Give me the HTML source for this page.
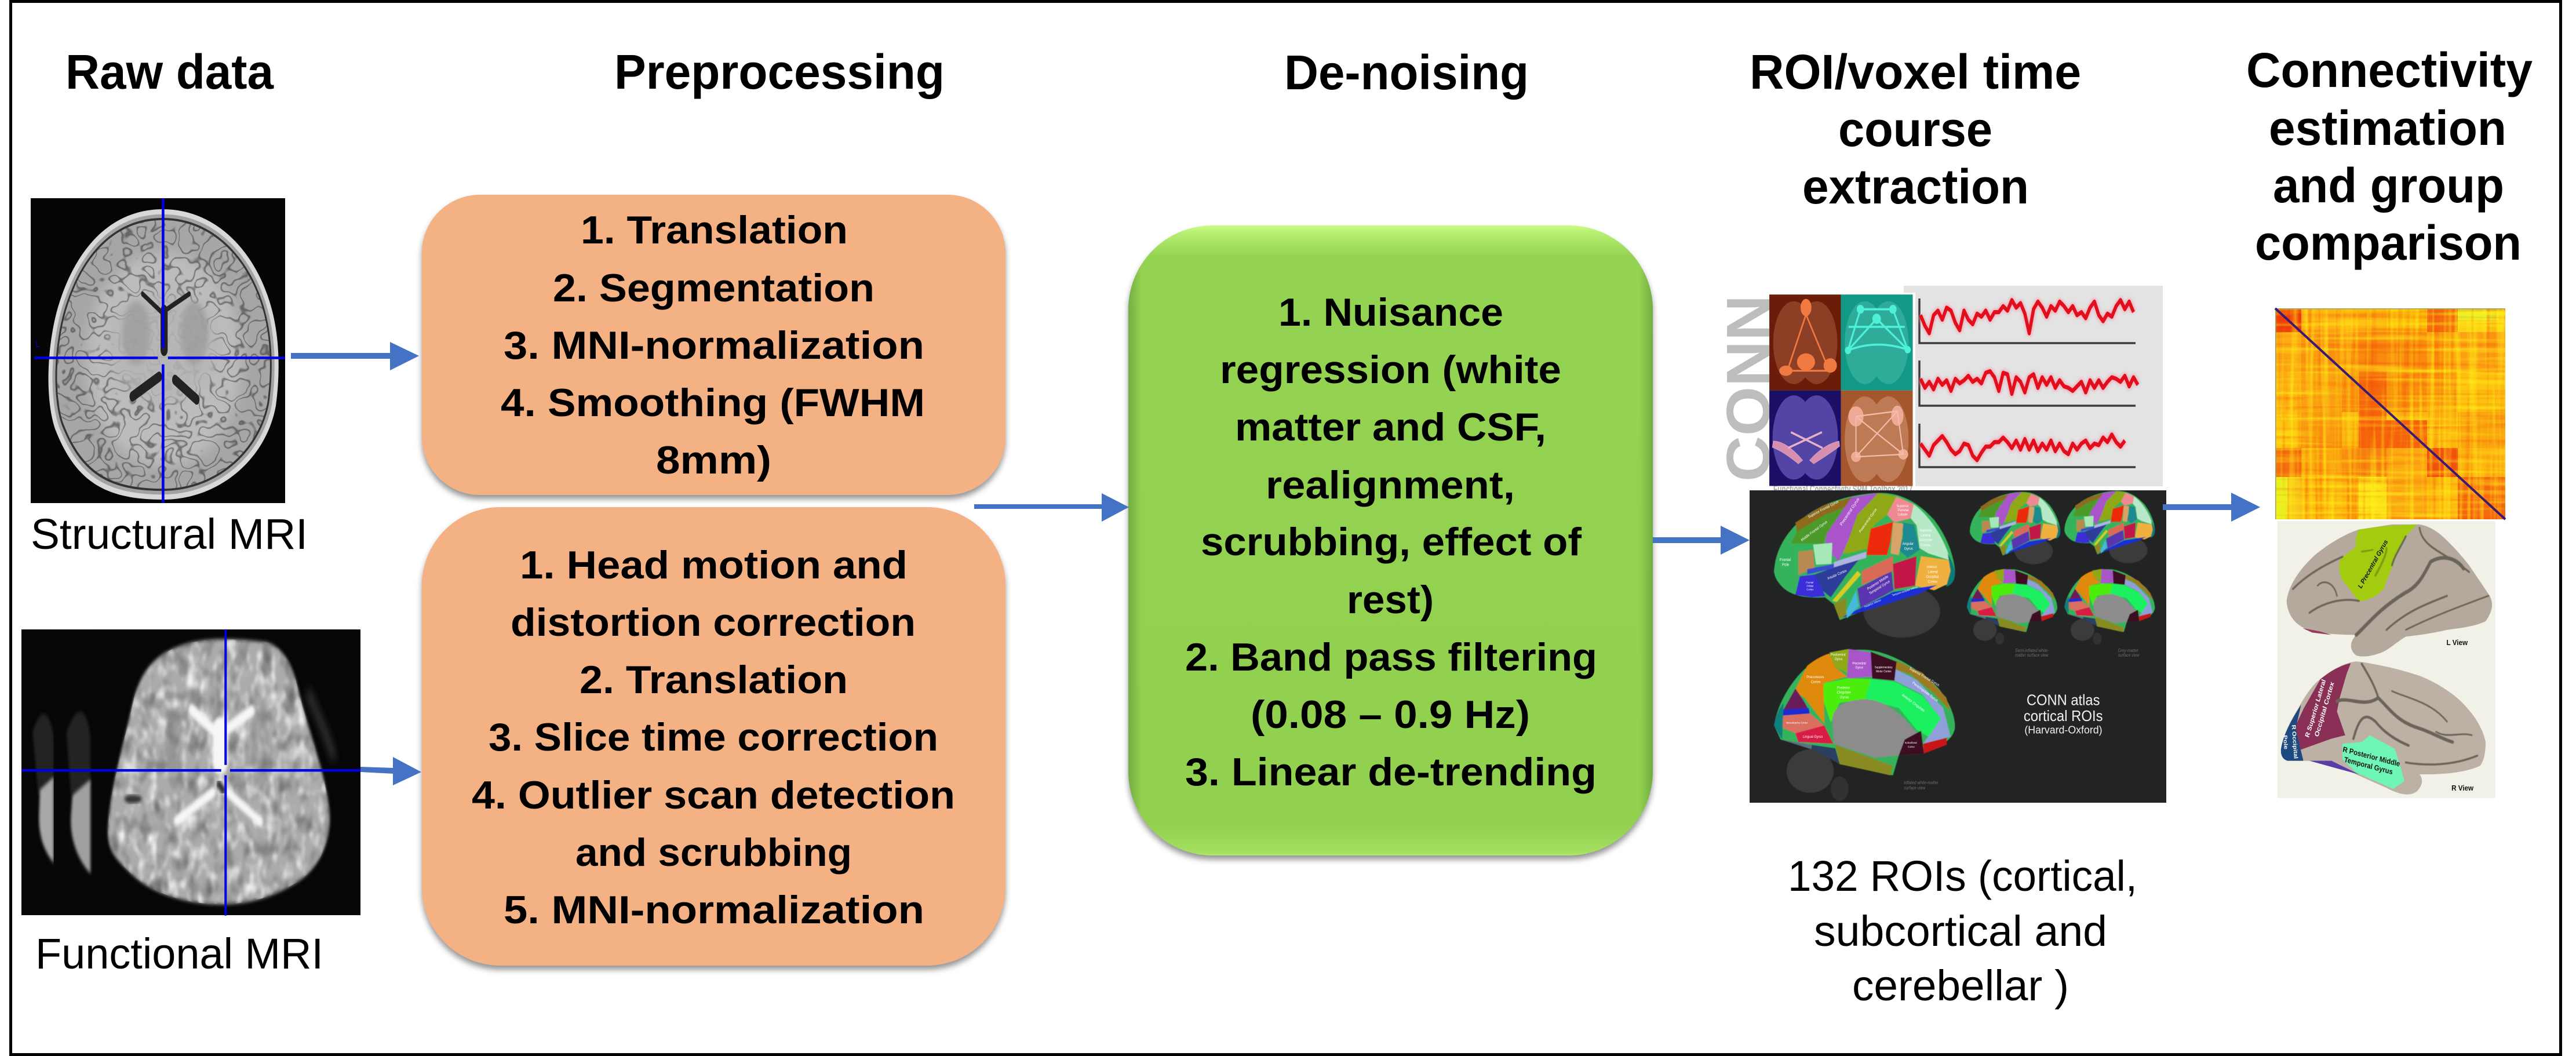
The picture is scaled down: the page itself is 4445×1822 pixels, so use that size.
<!DOCTYPE html>
<html>
<head>
<meta charset="utf-8">
<title>Connectivity pipeline</title>
<style>
html,body{margin:0;padding:0;background:#fff;width:4445px;height:1822px;overflow:hidden}
svg{display:block}
text{font-family:"Liberation Sans",sans-serif;fill:#000}
.h{font-size:84px;font-weight:bold}
.b{font-size:68px;font-weight:bold}
.r{font-size:74px}
.l{font-size:11px;fill:#fff}
.d{font-size:12px;font-weight:bold;fill:#111}
.c{font-size:13px;fill:#6a6a6a;font-style:italic}
</style>
</head>
<body>
<svg xmlns="http://www.w3.org/2000/svg" width="4445" height="1822" viewBox="0 0 4445 1822">
<defs>
<filter id="sh" x="-5%" y="-5%" width="110%" height="112%" color-interpolation-filters="sRGB">
<feDropShadow dx="0" dy="7" stdDeviation="5" flood-color="#000" flood-opacity=".42"/>
</filter>
<linearGradient id="gv" x1="0" y1="0" x2="0" y2="1">
<stop offset="0" stop-color="#c9fb86"/><stop offset=".012" stop-color="#b6ee70"/><stop offset=".05" stop-color="#94d252"/><stop offset=".95" stop-color="#92d050"/><stop offset=".995" stop-color="#a4df60"/><stop offset="1" stop-color="#b0ea6c"/>
</linearGradient>
<linearGradient id="gh" x1="0" y1="0" x2="1" y2="0">
<stop offset="0" stop-color="#4f8a30" stop-opacity=".5"/><stop offset=".025" stop-color="#4f8a30" stop-opacity="0"/><stop offset=".975" stop-color="#4f8a30" stop-opacity="0"/><stop offset="1" stop-color="#4f8a30" stop-opacity=".5"/>
</linearGradient>
<filter id="mw" x="0" y="0" width="1" height="1" color-interpolation-filters="sRGB">
<feTurbulence type="fractalNoise" baseFrequency="0.03" numOctaves="2" seed="4"/>
<feColorMatrix values="0 0 0 0 1 0 0 0 0 1 0 0 0 0 1 2.2 0 0 0 -1"/>
<feGaussianBlur stdDeviation="2.5"/>
<feComposite in2="SourceGraphic" operator="in"/>
</filter>
<filter id="md" x="0" y="0" width="1" height="1" color-interpolation-filters="sRGB">
<feTurbulence type="fractalNoise" baseFrequency="0.025" numOctaves="2" seed="11"/>
<feColorMatrix values="0 0 0 0 .3 0 0 0 0 .3 0 0 0 0 .3 1.6 0 0 0 -.75"/>
<feGaussianBlur stdDeviation="2.5"/>
<feComposite in2="SourceGraphic" operator="in"/>
</filter>
<filter id="sulci" x="0" y="0" width="1" height="1" color-interpolation-filters="sRGB">
<feTurbulence type="fractalNoise" baseFrequency="0.026" numOctaves="2" seed="7"/>
<feColorMatrix values="0 0 0 0 .12 0 0 0 0 .12 0 0 0 0 .12 1 0 0 0 0"/>
<feComponentTransfer><feFuncA type="table" tableValues="0 0 0 0 0 0 0 0 0 0 0 0 0 .9 0 0 0 0 .9 0 0 0 0 0 0 0 0 0 0 0 0 0 0"/></feComponentTransfer>
<feComposite in2="SourceGraphic" operator="in"/>
</filter>
<filter id="bl" x="-10%" y="-10%" width="120%" height="120%"><feGaussianBlur stdDeviation="4"/></filter>
<filter id="bl2" x="-20%" y="-20%" width="140%" height="140%"><feGaussianBlur stdDeviation="10"/></filter>
<filter id="b1" x="-5%" y="-5%" width="110%" height="110%"><feGaussianBlur stdDeviation="1"/></filter>
<filter id="b2" x="-5%" y="-5%" width="110%" height="110%"><feGaussianBlur stdDeviation="2.5"/></filter>
<filter id="s1" x="0" y="0" width="1" height="1" color-interpolation-filters="sRGB">
<feTurbulence type="fractalNoise" baseFrequency="0.11 0.004" numOctaves="2" seed="3"/>
<feColorMatrix values="0 0 0 0 .95 0 0 0 0 .3 0 0 0 0 .02 2.6 0 0 0 -1.3"/>
</filter>
<filter id="s2" x="0" y="0" width="1" height="1" color-interpolation-filters="sRGB">
<feTurbulence type="fractalNoise" baseFrequency="0.004 0.11" numOctaves="2" seed="5"/>
<feColorMatrix values="0 0 0 0 1 0 0 0 0 .95 0 0 0 0 .1 2.6 0 0 0 -1.25"/>
</filter>
<filter id="s3" x="0" y="0" width="1" height="1" color-interpolation-filters="sRGB">
<feTurbulence type="fractalNoise" baseFrequency="0.004 0.12" numOctaves="2" seed="9"/>
<feColorMatrix values="0 0 0 0 .95 0 0 0 0 .3 0 0 0 0 .02 2.6 0 0 0 -1.35"/>
</filter>
<filter id="s4" x="0" y="0" width="1" height="1" color-interpolation-filters="sRGB">
<feTurbulence type="fractalNoise" baseFrequency="0.12 0.004" numOctaves="2" seed="13"/>
<feColorMatrix values="0 0 0 0 1 0 0 0 0 .95 0 0 0 0 .1 2.6 0 0 0 -1.25"/>
</filter>
<clipPath id="cs"><rect x="53" y="342" width="439" height="526"/></clipPath>
<clipPath id="cf"><rect x="37" y="1086" width="585" height="493"/></clipPath>
<path id="head" d="M281 361C370 361 440 430 468 530C482 580 484 640 476 700C460 790 380 862 281 862C180 862 130 830 95 740C78 690 80 600 100 530C130 430 190 361 281 361Z"/>
<path id="fb" d="M365 1270C370 1190 420 1100 450 1020C480 950 540 925 620 910C700 895 800 898 900 905C960 915 990 950 1010 1000C1050 1090 1115 1180 1115 1250C1110 1310 1060 1350 1000 1370C900 1405 800 1415 700 1410C600 1405 500 1385 440 1350C395 1325 365 1310 365 1270Z"/>

<g id="lat">
<ellipse cx="650" cy="965" rx="130" ry="75" fill="#3a3a3a"/>
<path d="M218 850C222 790 260 735 330 690C400 650 490 630 570 628C640 626 700 650 760 705C800 750 825 800 830 850C830 885 800 895 770 892L620 930L440 990L420 945L390 925C340 928 280 925 245 895C228 880 218 865 218 850Z" fill="#35b35c"/>
<path d="M290 712L380 665L480 640L470 665L390 690L295 738Z" fill="#8d6a1e"/>
<path d="M295 738L390 690L470 665L440 690L395 745L385 772L275 772Z" fill="#4c9a2a"/>
<path d="M480 640L570 628L500 690L470 760L450 800L435 822L390 780L395 745L440 690Z" fill="#a955c9"/>
<path d="M570 628L632 638L600 690L555 720L540 785L470 800L450 800L470 760L500 690Z" fill="#8fa814"/>
<path d="M632 638L690 660L680 700L625 712L600 690Z" fill="#ef8a92"/>
<path d="M690 660C740 690 790 750 815 820L740 800L710 785L700 720L680 700Z" fill="#b7e8c8"/>
<path d="M650 712L692 718L710 790L670 812L640 790L655 750Z" fill="#1f8a8e"/>
<path d="M620 712L655 715L650 760L640 805L612 800Z" fill="#d6a468"/>
<path d="M545 730L620 710L612 765L600 805L530 805Z" fill="#ee2a0a"/>
<path d="M715 808L815 820L822 880L760 905L695 892Z" fill="#f0b040"/>
<path d="M805 800C822 825 830 845 830 860C828 885 810 892 800 895L815 850Z" fill="#0b7a7a"/>
<path d="M620 830L700 808L695 892L625 902Z" fill="#c2194a"/>
<path d="M500 900L615 850L622 905L510 955Z" fill="#5a35b0"/>
<path d="M515 850L620 808L620 850L515 890Z" fill="#d96a55"/>
<path d="M440 985L620 910L770 890L710 915L520 965Z" fill="#1f2fd0"/>
<path d="M355 860L510 812L460 865L410 925L380 905Z" fill="#2f3d9a"/>
<path d="M305 865L355 860L392 922L345 925L290 918Z" fill="#3a2fd8"/>
<path d="M300 795L350 790L355 840L300 862Z" fill="#b98a50"/>
<path d="M350 775L415 770L412 830L360 832Z" fill="#a7e8b8"/>
<path d="M420 825L530 795L530 812L420 840Z" fill="#b0b4e0"/>
<path d="M330 845L420 830L420 842L330 860Z" fill="#3a4bd0"/>
<path d="M415 935L500 850L512 860L430 938Z" fill="#d6cc20"/>
<path d="M462 965L495 905L505 950L465 985Z" fill="#46b8d8"/>
<path d="M420 945L462 925L462 975L440 988Z" fill="#8a8a20"/>
</g>

<g id="med">
<ellipse cx="340" cy="1420" rx="80" ry="62" fill="#3a3a3a"/>
<ellipse cx="440" cy="1470" rx="30" ry="35" fill="#333"/>
<path d="M218 1290C228 1230 280 1150 350 1110C400 1082 470 1070 540 1075C620 1085 700 1125 770 1180C810 1220 830 1260 830 1295C825 1330 790 1345 725 1370L640 1375L620 1432L440 1400L340 1352L240 1330Z" fill="#35b35c"/>
<path d="M630 1105L720 1140L800 1210L815 1250L760 1200L680 1145L630 1130Z" fill="#9b7a20"/>
<path d="M630 1130L700 1160L790 1240L815 1322L722 1342L782 1270L720 1202L620 1160Z" fill="#8f9fd8"/>
<path d="M545 1158L625 1165L720 1205L782 1270L740 1322L700 1302L640 1240L520 1215Z" fill="#1df060"/>
<path d="M385 1170L465 1156L545 1158L525 1215L440 1225L410 1282L385 1220Z" fill="#4ced10"/>
<path d="M330 1120C360 1100 385 1090 405 1085L425 1125L465 1150L385 1170L388 1285L320 1210L285 1195Z" fill="#e08a0c"/>
<path d="M405 1082L470 1072L465 1140L425 1125Z" fill="#8fa814"/>
<path d="M470 1072L545 1082L555 1150L465 1156Z" fill="#a955c9"/>
<path d="M545 1080L632 1108L625 1162L550 1156Z" fill="#3e1020"/>
<path d="M290 1185L320 1222L338 1250L250 1245Z" fill="#6a1a5a"/>
<path d="M245 1245L335 1240L338 1256L245 1262Z" fill="#1a2ad0"/>
<path d="M245 1262L340 1256L388 1290L290 1312L245 1296Z" fill="#d9705f"/>
<path d="M290 1312L388 1290L418 1342L300 1337Z" fill="#d81b45"/>
<path d="M415 1270C420 1240 450 1218 525 1215C600 1218 650 1260 700 1310L640 1375L560 1382L420 1342Z" fill="#8c8c8c"/>
<path d="M640 1375L660 1330L715 1305L725 1370Z" fill="#3e1020"/>
<path d="M722 1342L802 1325L802 1345L725 1370Z" fill="#c81818"/>
<path d="M218 1290C224 1262 236 1240 250 1226L245 1330Z" fill="#0f7f7e"/>
<path d="M240 1330L345 1345L345 1358Z" fill="#5c7080"/>
<path d="M345 1345L425 1355L440 1400L345 1356Z" fill="#2a4060"/>
<path d="M425 1345L620 1405L612 1432L440 1400Z" fill="#8a8a20"/>
</g>

<path id="t1" d="M3314 545l7.5 14l7.5 10l7.5-24l7.5-6l7.5 12l7.5-16l7.5 4l7.5 16l7.5 10l7.5-26l7.5 12l7.5 6l7.5-14l7.5 4l7.5-8l7.5 12l7.5-10l7.5 0l7.5-8l7.5 6l7.5-14l7.5 10l7.5-6l7.5 14l7.5 26l7.5-32l7.5-10l7.5 8l7.5 12l7.5-14l7.5 6l7.5-12l7.5 6l7.5 8l7.5-8l7.5 12l7.5-4l7.5 8l7.5-14l7.5-8l7.5 18l7.5 8l7.5-10l7.5 4l7.5-14l7.5-8l7.5 12l7.5-10l7.5 14"/>
<path id="t2" d="M3314 656l7.5 12l7.5-8l7.5 10l7.5-14l7.5 8l7.5-6l7.5 14l7.5-16l7.5 6l7.5-4l7.5-6l7.5 8l7.5-4l7.5 6l7.5-14l7.5-2l7.5 8l7.5 18l7.5-24l7.5 2l7.5 26l7.5-22l7.5 6l7.5 14l7.5-20l7.5-4l7.5 18l7.5-14l7.5 10l7.5-10l7.5 14l7.5-10l7.5 8l7.5 2l7.5 4l7.5-6l7.5-6l7.5 14l7.5-16l7.5 10l7.5-10l7.5 10l7.5-8l7.5-6l7.5 2l7.5 4l7.5-8l7.5 14l7.5-12l7.5 10"/>
<path id="t3" d="M3314 766l7.5 8l7.5 8l7.5-14l7.5-6l7.5-6l7.5 8l7.5 10l7.5 6l7.5-4l7.5-10l7.5 2l7.5 14l7.5 6l7.5-10l7.5-8l7.5 0l7.5-6l7.5 0l7.5-6l7.5 6l7.5 8l7.5-10l7.5 12l7.5-14l7.5 14l7.5-12l7.5 14l7.5-10l7.5 8l7.5-12l7.5 14l7.5-10l7.5 10l7.5 4l7.5-14l7.5 8l7.5-8l7.5-4l7.5 10l7.5-6l7.5 2l7.5-10l7.5 6l7.5-10l7.5 10l7.5 6l7.5-8"/>
</defs>

<rect width="4445" height="1822" fill="#fff"/>
<!-- frame -->
<rect x="16" y="0" width="4405" height="5" fill="#000"/>
<rect x="16" y="1817" width="4405" height="5" fill="#000"/>
<rect x="16" y="0" width="5" height="1822" fill="#000"/>
<rect x="4416" y="0" width="5" height="1822" fill="#000"/>

<!-- headings -->
<text class="h" x="113" y="153" textLength="359" lengthAdjust="spacingAndGlyphs">Raw data</text>
<text class="h" x="1060" y="153" textLength="570" lengthAdjust="spacingAndGlyphs">Preprocessing</text>
<text class="h" x="2216" y="154" textLength="422" lengthAdjust="spacingAndGlyphs">De-noising</text>
<text class="h" x="3019" y="153" textLength="572" lengthAdjust="spacingAndGlyphs">ROI/voxel time</text>
<text class="h" x="3172" y="252" textLength="266" lengthAdjust="spacingAndGlyphs">course</text>
<text class="h" x="3110" y="351" textLength="391" lengthAdjust="spacingAndGlyphs">extraction</text>
<text class="h" x="3876" y="150" textLength="494" lengthAdjust="spacingAndGlyphs">Connectivity</text>
<text class="h" x="3915" y="250" textLength="410" lengthAdjust="spacingAndGlyphs">estimation</text>
<text class="h" x="3922" y="349" textLength="399" lengthAdjust="spacingAndGlyphs">and group</text>
<text class="h" x="3891" y="448" textLength="460" lengthAdjust="spacingAndGlyphs">comparison</text>

<!-- Structural MRI -->
<rect x="53" y="342" width="439" height="526" fill="#050505"/>
<g clip-path="url(#cs)">
<use href="#head" fill="#d8d8d8"/>
<g transform="translate(283 611) scale(.965) translate(-283 -611)"><use href="#head" fill="#a2a2a2"/></g>
<g transform="translate(283 611) scale(.94) translate(-283 -611)"><use href="#head" fill="#333"/></g>
<g transform="translate(283 611) scale(.925) translate(-283 -611)"><use href="#head" fill="#a6a6a6"/></g>
<ellipse cx="283" cy="620" rx="135" ry="185" fill="#bcbcbc" filter="url(#bl2)"/>
<g transform="translate(283 611) scale(.925) translate(-283 -611)" opacity=".6"><use href="#head" fill="#000" filter="url(#sulci)"/></g>
<ellipse cx="283" cy="600" rx="95" ry="95" fill="#b6b6b6" filter="url(#bl2)" opacity=".85"/>
<ellipse cx="235" cy="575" rx="24" ry="55" fill="#9a9a9a" filter="url(#bl)" opacity=".7"/>
<ellipse cx="335" cy="575" rx="24" ry="55" fill="#9a9a9a" filter="url(#bl)" opacity=".7"/>
<g transform="translate(0 300) scale(.5102 .893)" fill="none" stroke="#222" stroke-linecap="round">
<path d="M482 232L548 268L640 232" stroke-width="10"/>
<path d="M555 265V340" stroke-width="24"/>
<path d="M448 430L538 392" stroke-width="20"/>
<path d="M592 398L665 436" stroke-width="20"/>
</g>
</g>
<g transform="translate(0 300) scale(.5102 .893)" fill="#0000e8">
<rect x="547" y="47" width="9" height="290"/>
<rect x="547" y="368" width="9" height="268"/>
<rect x="116" y="353" width="418" height="5"/>
<rect x="568" y="353" width="396" height="5"/>
<text x="121" y="334" style="font-size:20px;fill:#0000e8">L</text>
</g>
<text class="r" x="53" y="947" textLength="478" lengthAdjust="spacingAndGlyphs">Structural MRI</text>

<!-- Functional MRI -->
<rect x="37" y="1086" width="585" height="493" fill="#060606"/>
<g clip-path="url(#cf)">
<g transform="translate(0 300) scale(.5102 .893)">
<path d="M110 1080C140 1020 170 1040 182 1090V1180L130 1200Z" fill="#2a2a2a" filter="url(#bl)" opacity=".8"/>
<path d="M135 1190L182 1165V1332C155 1312 130 1285 132 1240Z" fill="#a8a8a8" filter="url(#bl)"/>
<rect x="182" y="880" width="124" height="553" fill="#070707"/>
<path d="M225 1080C260 1020 295 1030 306 1090V1180L240 1200Z" fill="#2a2a2a" filter="url(#bl)" opacity=".8"/>
<path d="M245 1200L306 1170V1352C270 1330 235 1290 240 1240Z" fill="#a0a0a0" filter="url(#bl)"/>
<use href="#fb" fill="#ababab" filter="url(#bl)"/>
<use href="#fb" fill="#fff" filter="url(#mw)"/>
<use href="#fb" fill="#000" filter="url(#md)"/>
<ellipse cx="590" cy="1110" rx="30" ry="80" fill="#808080" filter="url(#bl)" opacity=".45"/>
<ellipse cx="880" cy="1110" rx="30" ry="80" fill="#8a8a8a" filter="url(#bl)" opacity=".45"/>
<g fill="none" stroke="#f6f6f6" stroke-linecap="round" filter="url(#bl)">
<path d="M648 1035L740 1085L850 1038" stroke-width="22"/>
<path d="M745 1075V1135" stroke-width="52"/>
<path d="M598 1250L720 1195" stroke-width="20"/>
<path d="M770 1195L880 1252" stroke-width="18"/>
</g>
<path d="M735 1175L760 1195" stroke="#333" stroke-width="16" filter="url(#bl)"/>
<ellipse cx="450" cy="1208" rx="30" ry="8" fill="#333" filter="url(#bl)"/>
<path d="M1040 1000Q1110 1090 1130 1130" stroke="#2e2e2e" stroke-width="22" fill="none" filter="url(#bl2)"/>
</g>
</g>
<g transform="translate(0 300) scale(.5102 .893)" fill="#0000e8">
<rect x="759" y="880" width="8" height="262"/>
<rect x="759" y="1162" width="8" height="271"/>
<rect x="73" y="1150" width="675" height="5"/>
<rect x="778" y="1150" width="441" height="5"/>
</g>
<text class="r" x="61" y="1671" textLength="497" lengthAdjust="spacingAndGlyphs">Functional MRI</text>

<!-- Preprocessing boxes -->
<rect x="728" y="336" width="1007" height="518" rx="100" ry="100" fill="#f4b183" filter="url(#sh)"/>
<rect x="728" y="875" width="1007" height="791" rx="135" ry="135" fill="#f4b183" filter="url(#sh)"/>
<g>
<text class="b" x="1002" y="420" textLength="461" lengthAdjust="spacingAndGlyphs">1. Translation</text>
<text class="b" x="954" y="520" textLength="555" lengthAdjust="spacingAndGlyphs">2. Segmentation</text>
<text class="b" x="869" y="619" textLength="726" lengthAdjust="spacingAndGlyphs">3. MNI-normalization</text>
<text class="b" x="864" y="718" textLength="732" lengthAdjust="spacingAndGlyphs">4. Smoothing (FWHM</text>
<text class="b" x="1132" y="817" textLength="199" lengthAdjust="spacingAndGlyphs">8mm)</text>
<text class="b" x="897" y="998" textLength="669" lengthAdjust="spacingAndGlyphs">1. Head motion and</text>
<text class="b" x="881" y="1097" textLength="699" lengthAdjust="spacingAndGlyphs">distortion correction</text>
<text class="b" x="1000" y="1196" textLength="463" lengthAdjust="spacingAndGlyphs">2. Translation</text>
<text class="b" x="843" y="1295" textLength="776" lengthAdjust="spacingAndGlyphs">3. Slice time correction</text>
<text class="b" x="814" y="1395" textLength="834" lengthAdjust="spacingAndGlyphs">4. Outlier scan detection</text>
<text class="b" x="993" y="1494" textLength="477" lengthAdjust="spacingAndGlyphs">and scrubbing</text>
<text class="b" x="869" y="1593" textLength="726" lengthAdjust="spacingAndGlyphs">5. MNI-normalization</text>
</g>

<!-- De-noising box -->
<rect x="1947" y="389" width="905" height="1087" rx="145" ry="145" fill="url(#gv)" filter="url(#sh)"/>
<rect x="1947" y="389" width="905" height="1087" rx="145" ry="145" fill="url(#gh)"/>
<g>
<text class="b" x="2206" y="562" textLength="388" lengthAdjust="spacingAndGlyphs">1. Nuisance</text>
<text class="b" x="2105" y="661" textLength="589" lengthAdjust="spacingAndGlyphs">regression (white</text>
<text class="b" x="2131" y="760" textLength="537" lengthAdjust="spacingAndGlyphs">matter and CSF,</text>
<text class="b" x="2184" y="860" textLength="430" lengthAdjust="spacingAndGlyphs">realignment,</text>
<text class="b" x="2072" y="958" textLength="657" lengthAdjust="spacingAndGlyphs">scrubbing, effect of</text>
<text class="b" x="2324" y="1058" textLength="150" lengthAdjust="spacingAndGlyphs">rest)</text>
<text class="b" x="2045" y="1157" textLength="711" lengthAdjust="spacingAndGlyphs">2. Band pass filtering</text>
<text class="b" x="2158" y="1256" textLength="482" lengthAdjust="spacingAndGlyphs">(0.08 – 0.9 Hz)</text>
<text class="b" x="2045" y="1355" textLength="710" lengthAdjust="spacingAndGlyphs">3. Linear de-trending</text>
</g>

<!-- Time course panel -->
<rect x="3285" y="493" width="447" height="346" fill="#e3e3e3"/>
<rect x="3040" y="505" width="265" height="335" fill="#fff"/>
<text transform="translate(3053 831) rotate(-90)" style="font-size:106px;font-weight:bold;fill:#bdbdbd" textLength="322" lengthAdjust="spacingAndGlyphs">CONN</text>
<text x="3060" y="851" style="font-size:20px;font-weight:bold;fill:#aaa" textLength="240" lengthAdjust="spacingAndGlyphs">Functional Connectivity SPM Toolbox 2017</text>

<g transform="translate(2950 470) scale(.5102 .606)">
<rect x="202" y="63" width="242" height="273" fill="#6b1d0a"/>
<rect x="444" y="63" width="243" height="273" fill="#129a87"/>
<rect x="202" y="336" width="242" height="272" fill="#1c0f66"/>
<rect x="444" y="336" width="243" height="272" fill="#a6562c"/>
<g fill="#a4573a" opacity=".6">
<ellipse cx="285" cy="200" rx="70" ry="118"/><ellipse cx="362" cy="200" rx="70" ry="118"/>
</g>
<g fill="#42b9a6" opacity=".6">
<ellipse cx="525" cy="200" rx="68" ry="118"/><ellipse cx="605" cy="200" rx="68" ry="118"/>
</g>
<g fill="#6a5cc0" opacity=".7">
<ellipse cx="285" cy="470" rx="72" ry="120"/><ellipse cx="362" cy="470" rx="72" ry="120"/>
</g>
<g fill="#cb8e6a" opacity=".65">
<ellipse cx="525" cy="475" rx="68" ry="122"/><ellipse cx="605" cy="475" rx="68" ry="122"/>
</g>
<g fill="#f07a40" stroke="#f07a40">
<ellipse cx="326" cy="100" rx="18" ry="24"/><ellipse cx="326" cy="255" rx="30" ry="24"/>
<ellipse cx="258" cy="280" rx="22" ry="14"/><ellipse cx="408" cy="265" rx="22" ry="20"/>
<path d="M326 120L265 275M326 120L395 260M258 280H400" fill="none" stroke-width="5"/>
</g>
<g fill="#4ef0d8" stroke="#4ef0d8">
<circle cx="565" cy="132" r="14"/><circle cx="510" cy="105" r="12"/><circle cx="620" cy="105" r="12"/>
<circle cx="468" cy="222" r="10"/><circle cx="670" cy="220" r="10"/>
<path d="M510 105L620 105M468 222Q565 190 670 220M510 105L468 222M620 105L670 220M470 155L660 155M565 132L468 222M565 132L670 220" fill="none" stroke-width="6"/>
</g>
<g fill="#d78fb0" stroke="#e8b0c8">
<path d="M215 480Q260 480 315 535L300 545Q250 510 212 498Z"/>
<path d="M438 480Q385 490 338 535L352 545Q400 520 440 495Z"/>
<path d="M275 455L382 500M380 455L265 500" fill="none" stroke-width="6"/>
</g>
<g fill="#eeaa96" stroke="#f2bca8">
<ellipse cx="495" cy="410" rx="25" ry="28"/><ellipse cx="635" cy="408" rx="20" ry="28"/>
<ellipse cx="495" cy="525" rx="16" ry="14"/><ellipse cx="655" cy="518" rx="16" ry="14"/>
<path d="M495 410L635 395L655 518L495 525Z M495 410L655 518M635 395L495 525" fill="none" stroke-width="4"/>
</g>
</g>

<g fill="none" stroke="#3c3c3c" stroke-width="3.5">
<path d="M3312 515V592H3685"/>
<path d="M3312 622V700H3685"/>
<path d="M3312 731V806H3685"/>
</g>
<g fill="none" stroke-linejoin="round">
<g stroke="#f59aa8" stroke-width="10" opacity=".6" filter="url(#b2)">
<use href="#t1" transform="translate(0 549) scale(1 1.3) translate(0 -549)"/>
<use href="#t2" transform="translate(0 664) scale(1 1.3) translate(0 -664)"/>
<use href="#t3" transform="translate(0 768) scale(1 1.3) translate(0 -768)"/>
</g>
<g stroke="#e20e1b" stroke-width="5.5">
<use href="#t1" transform="translate(0 549) scale(1 1.3) translate(0 -549)"/>
<use href="#t2" transform="translate(0 664) scale(1 1.3) translate(0 -664)"/>
<use href="#t3" transform="translate(0 768) scale(1 1.3) translate(0 -768)"/>
</g>
</g>

<!-- Atlas -->
<rect x="3019" y="846" width="719" height="539" fill="#222423"/>
<g transform="translate(2950 470) scale(.5102 .606)">
<g filter="url(#b1)">
<use href="#lat"/>
<use href="#med"/>
<g transform="translate(771 311) scale(.5)"><use href="#lat"/></g>
<g transform="translate(1091 308) scale(.5)"><use href="#lat"/></g>
<g transform="translate(761 308) scale(.5)"><use href="#med"/></g>
<g transform="translate(1091 308) scale(.5)"><use href="#med"/></g>
</g>

<text class="l" x="237" y="822" style="font-size:12px">Frontal</text>
<text class="l" x="245" y="836" style="font-size:12px">Pole</text>
<text class="l" transform="translate(335 700) rotate(-24)">Superior Frontal Gyrus</text>
<text class="l" transform="translate(312 766) rotate(-32)">Middle Frontal Gyrus</text>
<text class="l" transform="translate(447 722) rotate(-52)" style="font-size:13px">Precentral Gyrus</text>
<text class="l" transform="translate(510 742) rotate(-50)">Postcentral Gyrus</text>
<text class="l" x="632" y="668">Superior</text><text class="l" x="636" y="680">Parietal</text><text class="l" x="636" y="692">Lobule</text>
<text class="l" x="710" y="738">Superior</text><text class="l" x="714" y="752">Lateral</text><text class="l" x="710" y="765">Occipital</text><text class="l" x="714" y="780">Cortex</text>
<text class="l" x="652" y="776">Angular</text><text class="l" x="658" y="790">Gyrus</text>
<text class="l" x="735" y="842">Inferior</text><text class="l" x="738" y="856">Lateral</text><text class="l" x="732" y="870">Occipital</text><text class="l" x="738" y="884">Cortex</text>
<text class="l" transform="translate(400 875) rotate(-20)">Insular Cortex</text>
<text class="l" transform="translate(535 905) rotate(-28)">Posterior Middle</text>
<text class="l" transform="translate(542 918) rotate(-28)">Temporal Gyrus</text>
<text class="l" x="326" y="885" style="font-size:8px">Frontal</text><text class="l" x="328" y="895" style="font-size:8px">Orbital</text><text class="l" x="328" y="905" style="font-size:8px">Cortex</text>
<text class="l" transform="translate(525 955) rotate(-20)" style="font-size:8px">Posterior Inferior</text>
<text class="l" transform="translate(618 922) rotate(-16)" style="font-size:8px">Temporo-occipital Inferior</text>

<text class="l" x="410" y="1092" style="font-size:10px">Postcentral</text><text class="l" x="423" y="1104" style="font-size:10px">Gyrus</text>
<text class="l" x="483" y="1116" style="font-size:10px">Precentral</text><text class="l" x="493" y="1128" style="font-size:10px">Gyrus</text>
<text class="l" x="558" y="1127" style="font-size:9px">Supplementary</text><text class="l" x="563" y="1139" style="font-size:9px">Motor Cortex</text>
<text class="l" x="328" y="1155">Precuneous</text><text class="l" x="343" y="1169">Cortex</text>
<text class="l" x="431" y="1186">Posterior</text><text class="l" x="431" y="1199">Cingulate</text><text class="l" x="441" y="1213">Gyrus</text>
<text class="l" transform="translate(650 1205) rotate(32)">Anterior Cingulate</text>
<text class="l" transform="translate(685 1170) rotate(32)">Paracingulate Gyrus</text>
<text class="l" transform="translate(675 1130) rotate(26)">Superior Frontal Gyrus</text>
<text class="l" x="258" y="1285" style="font-size:8px">Intracalcarine Cortex</text>
<text class="l" x="315" y="1325" style="font-size:11px">Lingual Gyrus</text>
<text class="l" x="660" y="1342" style="font-size:8px">Subcallosal</text><text class="l" x="670" y="1353" style="font-size:8px">Cortex</text>

<text x="1072" y="1232" style="font-size:42px;fill:#f0f0f0" textLength="248" lengthAdjust="spacingAndGlyphs">CONN atlas</text>
<text x="1062" y="1277" style="font-size:42px;fill:#f0f0f0" textLength="268" lengthAdjust="spacingAndGlyphs">cortical ROIs</text>
<text x="1065" y="1313" style="font-size:31px;fill:#f0f0f0" textLength="263" lengthAdjust="spacingAndGlyphs">(Harvard-Oxford)</text>
<text class="c" x="1033" y="1081">Semi-inflated white-</text>
<text class="c" x="1033" y="1094">matter surface view</text>
<text class="c" x="1381" y="1081">Grey-matter</text>
<text class="c" x="1381" y="1094">surface view</text>
<text class="c" x="657" y="1457">inflated white-matter</text>
<text class="c" x="657" y="1472">surface view</text>
</g>

<text class="r" x="3085" y="1537" textLength="603" lengthAdjust="spacingAndGlyphs">132 ROIs (cortical,</text>
<text class="r" x="3130" y="1632" textLength="506" lengthAdjust="spacingAndGlyphs">subcortical and</text>
<text class="r" x="3196" y="1726" textLength="374" lengthAdjust="spacingAndGlyphs">cerebellar )</text>

<!-- Correlation matrix -->
<rect x="3926" y="532" width="397" height="364" fill="#fbaa10"/>
<g>
<rect x="3926" y="532" width="45" height="41" fill="#ee3c0a"/><rect x="3971" y="532" width="70" height="41" fill="#fdb013"/><rect x="4041" y="532" width="29" height="41" fill="#fdb50f"/><rect x="4070" y="532" width="48" height="41" fill="#fcb410"/><rect x="4118" y="532" width="70" height="41" fill="#fdc80c"/><rect x="4188" y="532" width="53" height="41" fill="#f37010"/><rect x="4241" y="532" width="82" height="41" fill="#fbd414"/><rect x="4241" y="532" width="70" height="20" fill="#e4ee2a"/>
<rect x="3926" y="573" width="45" height="68" fill="#fca812"/><rect x="3971" y="573" width="70" height="68" fill="#f99010"/><rect x="4041" y="573" width="29" height="68" fill="#f98c10"/><rect x="4070" y="573" width="48" height="68" fill="#f98a10"/><rect x="4118" y="573" width="70" height="68" fill="#f99510"/><rect x="4188" y="573" width="53" height="68" fill="#fba810"/><rect x="4241" y="573" width="82" height="68" fill="#fba012"/>
<rect x="3926" y="641" width="45" height="70" fill="#fdb512"/><rect x="3971" y="641" width="70" height="70" fill="#faa010"/><rect x="4041" y="641" width="29" height="70" fill="#f98a0e"/><rect x="4070" y="641" width="48" height="70" fill="#f5680e"/><rect x="4118" y="641" width="70" height="70" fill="#f9930e"/><rect x="4188" y="641" width="53" height="70" fill="#fbaa10"/><rect x="4241" y="641" width="82" height="70" fill="#fdc010"/>
<rect x="3926" y="711" width="45" height="62" fill="#fdc510"/><rect x="3971" y="711" width="70" height="62" fill="#f99a10"/><rect x="4041" y="711" width="29" height="62" fill="#fcbc10"/><rect x="4070" y="711" width="48" height="62" fill="#f5640c"/><rect x="4118" y="711" width="70" height="62" fill="#fdb810"/><rect x="4188" y="711" width="53" height="62" fill="#fdb810"/><rect x="4241" y="711" width="82" height="62" fill="#fba810"/>
<rect x="4118" y="725" width="70" height="48" fill="#f5640c"/>
<rect x="3926" y="773" width="45" height="50" fill="#f37010"/><rect x="3971" y="773" width="70" height="50" fill="#fba810"/><rect x="4041" y="773" width="29" height="50" fill="#f99012"/><rect x="4070" y="773" width="48" height="50" fill="#f58010"/><rect x="4118" y="773" width="70" height="50" fill="#fca812"/><rect x="4188" y="773" width="53" height="50" fill="#f15210"/><rect x="4241" y="773" width="82" height="50" fill="#fdb010"/>
<rect x="3926" y="823" width="45" height="73" fill="#f8c81a"/><rect x="3926" y="823" width="21" height="73" fill="#e8f020"/><rect x="3971" y="823" width="70" height="73" fill="#fdc210"/><rect x="4041" y="823" width="29" height="73" fill="#fdb810"/><rect x="4070" y="823" width="48" height="73" fill="#fbe21a"/><rect x="4118" y="823" width="70" height="73" fill="#fba812"/><rect x="4188" y="823" width="53" height="73" fill="#fdbc10"/><rect x="4241" y="823" width="82" height="73" fill="#f56a10"/>
</g>
<rect x="3926" y="532" width="397" height="364" filter="url(#s1)" opacity=".5"/>
<rect x="3926" y="532" width="397" height="364" filter="url(#s2)" opacity=".7"/>
<rect x="3926" y="532" width="397" height="364" filter="url(#s3)" opacity=".5"/>
<rect x="3926" y="532" width="397" height="364" filter="url(#s4)" opacity=".7"/>
<rect x="3926" y="532" width="397" height="1.5" fill="#a0a060"/>
<rect x="3926" y="532" width="1.5" height="364" fill="#a0a060"/>
<line x1="3926" y1="532" x2="4323" y2="896" stroke="#3a1a70" stroke-width="4"/>

<!-- surface brains -->
<rect x="3930" y="899" width="376" height="478" fill="#f1f1e7"/>
<g transform="translate(3700 500) scale(.475 .5867)">
<path d="M517 915C525 870 560 825 620 780C680 740 740 715 780 705L900 690L1000 690C1040 695 1070 715 1090 730C1130 760 1160 790 1180 810L1255 900C1270 925 1265 945 1240 975C1200 990 1150 995 1100 1000C1050 1010 1000 1015 950 1020C910 1040 880 1065 850 1070C815 1080 785 1080 770 1075C745 1060 745 1035 770 1015C720 1015 680 1012 650 1010C610 1005 590 1000 570 990C540 975 520 950 517 915Z" fill="#b4a99c"/>
<path d="M640 1005L575 995L610 1008L680 1015Z" fill="#9a3a5c"/>
<path d="M780 705L870 695L990 690L950 725C925 770 900 810 870 880C840 905 810 915 780 915C760 900 750 880 720 855C705 830 705 800 715 790L770 755C765 735 770 720 780 705Z" fill="#a3cc10"/>
<g fill="none" stroke="#6b6558" stroke-linecap="round" filter="url(#b1)">
<path d="M770 1015C810 985 850 940 950 890C1000 870 1020 830 1040 800C1080 780 1130 785 1160 820" stroke-width="11"/>
<path d="M900 810C910 780 930 760 950 725" stroke-width="6"/>
<path d="M840 840C860 810 880 780 880 760" stroke-width="7" stroke="#7f9a10"/>
<path d="M790 770L830 765" stroke-width="5" stroke="#7f9a10"/>
<path d="M540 880C600 830 680 800 720 785" stroke-width="6"/>
<path d="M600 950C650 920 720 905 780 915" stroke-width="6"/>
<path d="M1000 700C1010 760 1090 770 1180 830" stroke-width="6"/>
<path d="M950 1000C1050 960 1150 930 1250 900" stroke-width="5"/>
<path d="M880 1000C960 940 1040 920 1100 900" stroke-width="6"/>
<path d="M630 870C650 850 690 860 700 900" stroke-width="5"/>
</g>
<text class="d" transform="translate(788 880) rotate(-55)" style="font-size:22px" textLength="170" lengthAdjust="spacingAndGlyphs">L Precentral Gyrus</text>
<text class="d" x="1098" y="1045" style="font-size:22px" textLength="77" lengthAdjust="spacingAndGlyphs">L View</text>

<path d="M497 1350C505 1310 530 1270 560 1230C590 1185 620 1155 640 1145C690 1110 740 1095 770 1093C800 1095 830 1100 860 1105C920 1115 960 1125 1000 1135C1060 1155 1110 1180 1150 1210C1200 1250 1230 1290 1240 1330C1240 1370 1230 1390 1220 1400C1150 1425 1060 1425 1000 1425C1015 1440 1010 1460 990 1475C970 1487 940 1490 880 1465L700 1400C660 1390 620 1385 580 1385L520 1385C500 1380 495 1365 497 1350Z" fill="#bcb1a4"/>
<path d="M640 1145C670 1125 710 1105 750 1098L735 1130L710 1200L700 1240L730 1310L680 1320L560 1355L545 1290L580 1230Z" fill="#8a2f55"/>
<path d="M497 1350C505 1310 530 1270 570 1220L550 1290L578 1385L520 1385C500 1380 495 1365 497 1350Z" fill="#1f4a80"/>
<path d="M600 1385L680 1385L780 1425L720 1412Z" fill="#5a3ca8"/>
<path d="M720 1335L790 1330L820 1310L910 1350L930 1400L945 1445L905 1468L770 1420L720 1380Z" fill="#6ff5b5"/>
<g fill="none" stroke="#6b6558" stroke-linecap="round" filter="url(#b1)">
<path d="M700 1210C740 1195 800 1230 850 1200C900 1240 920 1270 1000 1290C1040 1300 1080 1320 1120 1330" stroke-width="10"/>
<path d="M790 1100C820 1140 840 1170 850 1200" stroke-width="7"/>
<path d="M760 1320C780 1260 800 1240 840 1270C880 1310 930 1330 960 1340" stroke-width="8"/>
<path d="M900 1180C950 1200 1040 1210 1100 1270" stroke-width="5"/>
<path d="M950 1390C1020 1400 1120 1400 1210 1370" stroke-width="6"/>
<path d="M1060 1300C1100 1320 1150 1300 1190 1310" stroke-width="5"/>
</g>
<text class="d" transform="translate(598 1318) rotate(-70)" style="font-size:22px;fill:#fff" textLength="180" lengthAdjust="spacingAndGlyphs">R Superior Lateral</text>
<text class="d" transform="translate(632 1316) rotate(-70)" style="font-size:22px;fill:#fff" textLength="170" lengthAdjust="spacingAndGlyphs">Occipital Cortex</text>
<text class="d" transform="translate(536 1280) rotate(85)" style="font-size:20px;fill:#fff" textLength="100" lengthAdjust="spacingAndGlyphs">R Occipital</text>
<text class="d" transform="translate(505 1310) rotate(85)" style="font-size:20px;fill:#fff">Pole</text>
<text class="d" transform="translate(720 1358) rotate(12)" style="font-size:22px" textLength="212" lengthAdjust="spacingAndGlyphs">R Posterior Middle</text>
<text class="d" transform="translate(725 1388) rotate(12)" style="font-size:22px" textLength="180" lengthAdjust="spacingAndGlyphs">Temporal Gyrus</text>
<text class="d" x="1116" y="1473" style="font-size:22px" textLength="80" lengthAdjust="spacingAndGlyphs">R View</text>
</g>

<!-- Arrows -->
<g fill="#4472c4">
<rect x="502" y="609" width="172" height="10"/>
<polygon points="673,590 723,614 673,639"/>
<polygon points="622,1323 680,1325 680,1335 622,1332"/>
<polygon points="678,1306 727,1332 678,1355"/>
<rect x="1681" y="870" width="221" height="8"/>
<polygon points="1901,851 1948,875 1901,900"/>
<rect x="2852" y="927" width="118" height="10"/>
<polygon points="2969,907 3019,932 2969,957"/>
<rect x="3732" y="870" width="119" height="10"/>
<polygon points="3850,850 3900,875 3850,900"/>
</g>
</svg>
</body>
</html>
